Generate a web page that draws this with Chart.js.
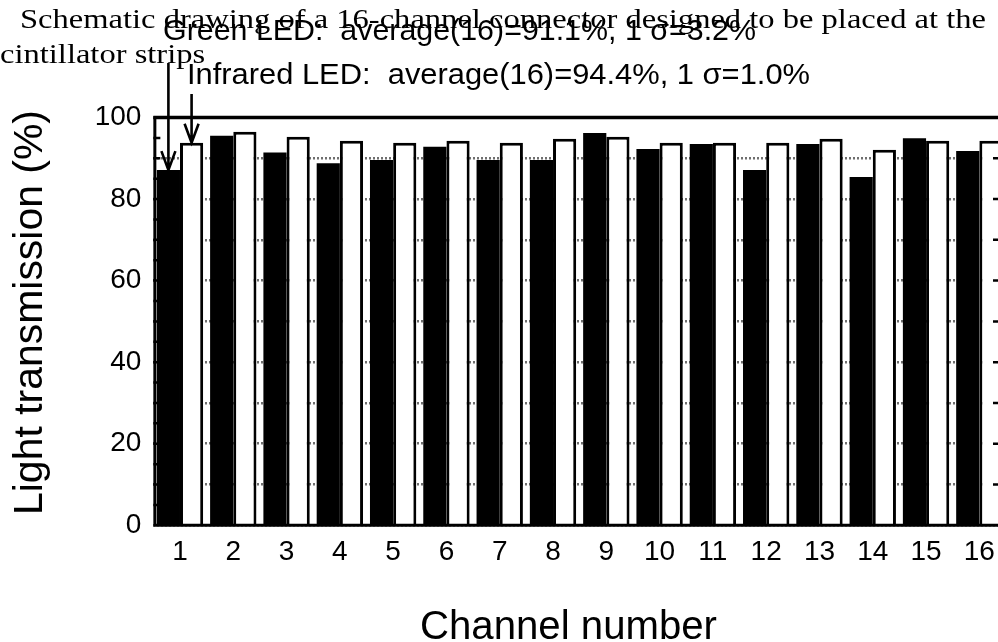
<!DOCTYPE html>
<html>
<head>
<meta charset="utf-8">
<script src="https://cdn.jsdelivr.net/npm/chart.js@4/dist/chart.umd.min.js"></script>
<style>
  html, body { margin: 0; padding: 0; background: #fff; overflow: hidden; width: 998px; height: 642px; }
  canvas { display: block; }
</style>
</head>
<body>
<canvas id="chart" width="1006" height="642"></canvas>
<script>
// Channel numbers of the 16-channel connector
const channels = ['1', '2', '3', '4', '5', '6', '7', '8', '9', '10', '11', '12', '13', '14', '15', '16'];
// Light transmission (%) measured with the green LED
const greenLED = [87.1, 95.5, 91.4, 88.8, 89.6, 92.8, 89.6, 89.6, 96.2, 92.3, 93.5, 87.1, 93.5, 85.4, 94.9, 91.8];
// Light transmission (%) measured with the infrared LED
const infraredLED = [93.8, 96.5, 95.3, 94.3, 93.8, 94.3, 93.8, 94.8, 95.3, 93.8, 93.8, 93.8, 94.8, 92.1, 94.3, 94.3];
// Labelled values on the transmission axis
const yTickLabels = [0, 20, 40, 60, 80, 100];

const captionLines = [
  'Schematic drawing of a 16-channel connector designed to be placed at the',
  'cintillator strips'
];
const greenNote = 'Green LED:  average(16)=91.1%, 1 \u03c3=3.2%';
const infraredNote = 'Infrared LED:  average(16)=94.4%, 1 \u03c3=1.0%';
const xTitle = 'Channel number';
const yTitle = 'Light transmission (%)';

const SANS = '"Liberation Sans", Arial, Helvetica, sans-serif';
const SERIF = '"Liberation Serif", "Times New Roman", serif';

// Draw a string stretched/squeezed horizontally to a given width
function fitText(ctx, text, x, y, width, font, rotate) {
  ctx.save();
  ctx.font = font;
  ctx.textAlign = 'left';
  ctx.textBaseline = 'alphabetic';
  const w = ctx.measureText(text).width;
  ctx.translate(x, y);
  if (rotate) ctx.rotate(rotate);
  ctx.scale(width / w, 1);
  ctx.fillStyle = '#000';
  ctx.fillText(text, 0, 0);
  ctx.restore();
  return width / w;
}

function arrow(ctx, x, yStart, yTip) {
  ctx.beginPath();
  ctx.moveTo(x, yStart);
  ctx.lineTo(x, yTip);
  ctx.moveTo(x - 7, yTip - 19);
  ctx.lineTo(x, yTip);
  ctx.lineTo(x + 7, yTip - 19);
  ctx.stroke();
}

const decorations = {
  id: 'decorations',
  afterDatasetsDraw(chart) {
    const ctx = chart.ctx;
    const area = chart.chartArea;
    const y = chart.scales.y;
    ctx.save();
    ctx.strokeStyle = '#000';
    ctx.lineCap = 'butt';

    // frame of the plot
    ctx.lineWidth = 3.3;
    ctx.beginPath();
    ctx.moveTo(area.left, area.top);
    ctx.lineTo(area.right, area.top);
    ctx.stroke();
    ctx.lineWidth = 3;
    ctx.beginPath();
    ctx.moveTo(area.left + 1.5, area.top);
    ctx.lineTo(area.left + 1.5, area.bottom);
    ctx.moveTo(area.left, area.bottom);
    ctx.lineTo(area.right, area.bottom);
    ctx.stroke();

    // inward tick marks: major every 10 %, minor every 5 %
    ctx.lineWidth = 2.5;
    ctx.beginPath();
    for (let v = 5; v < 100; v += 5) {
      const py = y.getPixelForValue(v);
      const major = v % 10 === 0;
      ctx.moveTo(area.left, py);
      ctx.lineTo(area.left + 7, py);
      ctx.moveTo(area.right - (major ? 13 : 7), py);
      ctx.lineTo(area.right, py);
    }
    ctx.stroke();

    // arrows pointing at the channel-1 bars
    const g = chart.getDatasetMeta(0).data[0];
    const ir = chart.getDatasetMeta(1).data[0];
    ctx.lineWidth = 2.6;
    arrow(ctx, g.x, 63, g.y);
    arrow(ctx, ir.x, 94, ir.y);
    ctx.restore();
  },
  afterDraw(chart) {
    const ctx = chart.ctx;
    // caption text in serif
    const sx = fitText(ctx, captionLines[0], 20, 28, 966, '27px ' + SERIF);
    ctx.save();
    ctx.font = '27px ' + SERIF;
    const w2 = ctx.measureText(captionLines[1]).width * sx;
    ctx.restore();
    fitText(ctx, captionLines[1], 0, 63, w2, '27px ' + SERIF);

    // LED summary notes
    fitText(ctx, greenNote, 163, 39.5, 593, '30px ' + SANS);
    fitText(ctx, infraredNote, 187, 84, 623, '30px ' + SANS);

    // axis titles
    fitText(ctx, xTitle, 420, 638.5, 297, '40px ' + SANS);
    fitText(ctx, yTitle, 42, 515, 405, '40px ' + SANS, -Math.PI / 2);
  }
};

new Chart(document.getElementById('chart'), {
  type: 'bar',
  data: {
    labels: channels,
    datasets: [
      {
        label: 'Green LED',
        data: greenLED,
        backgroundColor: '#000',
        borderColor: '#000',
        borderWidth: 0,
        barPercentage: 1,
        categoryPercentage: 0.87
      },
      {
        label: 'Infrared LED',
        data: infraredLED,
        backgroundColor: '#fff',
        borderColor: '#000',
        borderWidth: 3,
        borderSkipped: 'start',
        barPercentage: 1,
        categoryPercentage: 0.87
      }
    ]
  },
  options: {
    responsive: false,
    animation: false,
    devicePixelRatio: 1,
    layout: { padding: { top: 117.5, left: 0, right: 0, bottom: 0 } },
    plugins: {
      legend: { display: false },
      tooltip: { enabled: false },
      title: { display: false }
    },
    scales: {
      x: {
        grid: { display: false, drawTicks: false },
        border: { display: false },
        ticks: {
          color: '#000',
          padding: 10,
          font: { family: SANS, size: 28 },
          maxRotation: 0,
          autoSkip: false
        },
        afterFit(scale) { scale.height = 116.7; }
      },
      y: {
        min: 0,
        max: 100,
        grid: { color: '#6f6f6f', lineWidth: 2.5, drawTicks: false },
        border: { display: false, dash: [2, 2] },
        ticks: {
          stepSize: 10,
          color: '#000',
          padding: 12,
          font: { family: SANS, size: 28 },
          callback: (v) => (yTickLabels.includes(v) ? String(v) : '')
        },
        afterFit(scale) { scale.width = 153.35; }
      }
    }
  },
  plugins: [decorations]
});
</script>
</body>
</html>
